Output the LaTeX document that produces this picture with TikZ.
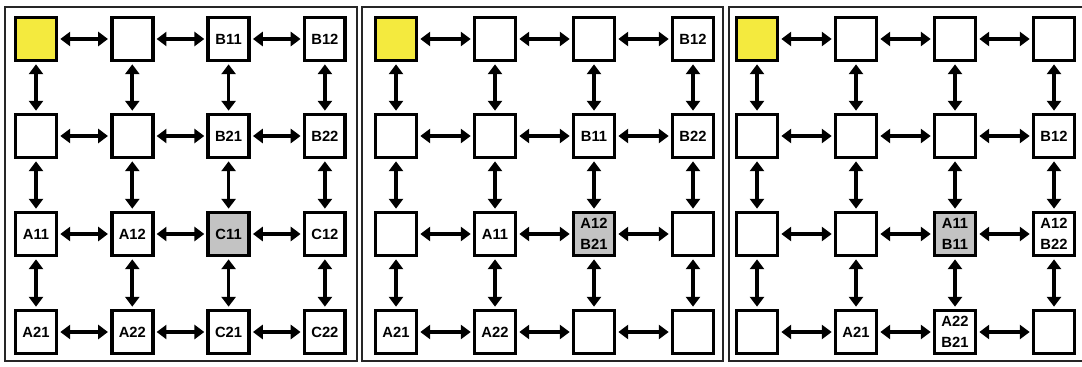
\documentclass[tikz,border=0pt]{standalone}
\usepackage{fontspec}
\setmainfont{Liberation Sans}
\usepackage{xcolor}
\usetikzlibrary{arrows.meta,positioning}

\definecolor{cellyellow}{HTML}{F4EA3E}
\definecolor{cellgray}{HTML}{C3C3C3}

\tikzset{
  cell/.style={draw, line width=2.6pt, fill=white, minimum width=1.02cm, minimum height=1.07cm, inner sep=0pt},
  txt/.style={font=\bfseries\fontsize{10.5}{15}\selectfont, align=center, inner sep=0pt},
  link/.style={{Triangle[length=7pt,width=10pt]}-{Triangle[length=7pt,width=10pt]}, line width=2.6pt, shorten <=1.5pt, shorten >=1.5pt},
  frame/.style={draw=black!85, line width=1.4pt},
  % panel 1
  sq a11/.style={fill=cellyellow},
  sq a13/.style={label={[txt]center:B11}},
  sq a14/.style={label={[txt]center:B12}},
  sq a23/.style={label={[txt]center:B21}},
  sq a24/.style={label={[txt]center:B22}},
  sq a31/.style={label={[txt]center:A11}},
  sq a32/.style={label={[txt]center:A12}},
  sq a33/.style={fill=cellgray, label={[txt]center:C11}},
  sq a34/.style={label={[txt]center:C12}},
  sq a41/.style={label={[txt]center:A21}},
  sq a42/.style={label={[txt]center:A22}},
  sq a43/.style={label={[txt]center:C21}},
  sq a44/.style={label={[txt]center:C22}},
  % panel 2
  sq b11/.style={fill=cellyellow},
  sq b14/.style={label={[txt]center:B12}},
  sq b23/.style={label={[txt]center:B11}},
  sq b24/.style={label={[txt]center:B22}},
  sq b32/.style={label={[txt]center:A11}},
  sq b33/.style={fill=cellgray, label={[txt]center:{A12\\B21}}},
  sq b41/.style={label={[txt]center:A21}},
  sq b42/.style={label={[txt]center:A22}},
  % panel 3
  sq c11/.style={fill=cellyellow},
  sq c24/.style={label={[txt]center:B12}},
  sq c33/.style={fill=cellgray, label={[txt]center:{A11\\B11}}},
  sq c34/.style={label={[txt]center:{A12\\B22}}},
  sq c42/.style={label={[txt]center:A21}},
  sq c43/.style={label={[txt]center:{A22\\B21}}},
}

\begin{document}
\begin{tikzpicture}[x=0.025cm, y=-0.025cm]
  \useasboundingbox (0,0) rectangle (1082,367);

  % frames
  \draw[frame] (5,7) rectangle (357,361);
  \draw[frame] (362,7) rectangle (723,361);
  \draw[frame] (1090,7) -- (729,7) -- (729,361) -- (1090,361);

  % cells
  \foreach \p/\x/\dx in {a/36/96.3, b/396/99, c/757/99} {
    \foreach \r/\y in {1/39, 2/136, 3/234, 4/332} {
      \foreach \c in {1,...,4} {
        \node[cell, sq \p\r\c/.try] (\p\r\c) at ({\x+(\c-1)*\dx},\y) {};
      }
    }
  }

  % links
  \foreach \p in {a,b,c} {
    \foreach \r in {1,...,4} {
      \foreach \c/\d in {1/2, 2/3, 3/4} {
        \draw[link] (\p\r\c) -- (\p\r\d);
        \draw[link] (\p\c\r) -- (\p\d\r);
      }
    }
  }
\end{tikzpicture}
\end{document}
